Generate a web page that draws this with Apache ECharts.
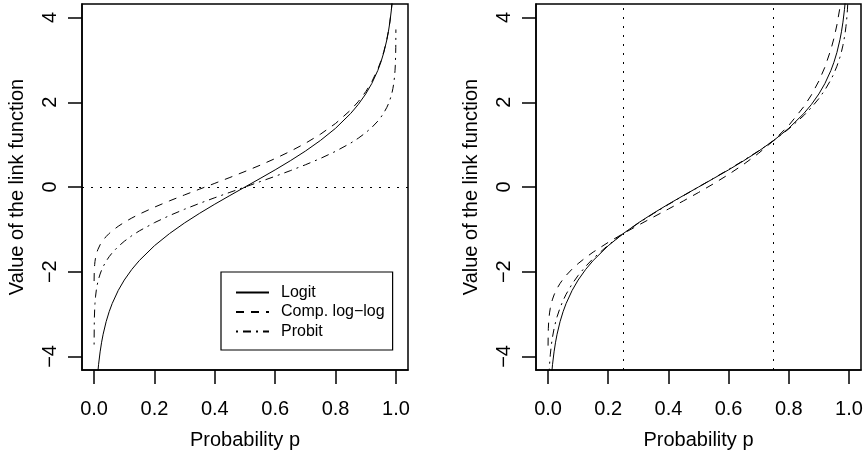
<!DOCTYPE html>
<html>
<head>
<meta charset="utf-8">
<script src="https://cdn.jsdelivr.net/npm/echarts@6/dist/echarts.min.js"></script>
<style>
html,body{margin:0;padding:0;background:#fff;}
#chart{width:866px;height:457px;}
</style>
</head>
<body>
<div id="chart"></div>
<script>
// Probability grid (x values)
var P = [0.0001,0.0005,0.001,0.002,0.003,0.005,0.0075,0.01,0.0125,0.015,0.02,0.025,0.03,0.04,0.05,0.06,0.08,0.1,0.125,0.15,0.2,0.25,0.3,0.35,0.4,0.45,0.5,
         0.55,0.6,0.65,0.7,0.75,0.8,0.85,0.875,0.9,0.92,0.94,0.95,0.96,0.97,0.975,0.98,0.985,0.9875,0.99,0.9925,0.995,0.997,0.998,0.999,0.9995,0.9999];

// Left panel: link function values
var logitY = [-9.210,-7.600,-6.907,-6.213,-5.806,-5.293,-4.885,-4.595,-4.370,-4.185,-3.892,-3.664,-3.476,-3.178,-2.944,-2.752,-2.442,-2.197,-1.946,-1.735,-1.386,-1.099,-0.847,-0.619,-0.405,-0.201,0,
              0.201,0.405,0.619,0.847,1.099,1.386,1.735,1.946,2.197,2.442,2.752,2.944,3.178,3.476,3.664,3.892,4.185,4.370,4.595,4.885,5.293,5.806,6.213,6.907,7.600,9.210];
var loglogY = [-2.220,-2.028,-1.933,-1.827,-1.759,-1.667,-1.588,-1.527,-1.478,-1.435,-1.364,-1.305,-1.255,-1.169,-1.097,-1.034,-0.927,-0.834,-0.732,-0.640,-0.476,-0.327,-0.186,-0.049,0.087,0.225,0.367,
               0.514,0.672,0.842,1.031,1.246,1.500,1.817,2.013,2.250,2.484,2.783,2.970,3.199,3.491,3.676,3.902,4.192,4.376,4.600,4.889,5.296,5.808,6.214,6.907,7.601,9.210];
var probitY = [-3.719,-3.291,-3.090,-2.878,-2.748,-2.576,-2.432,-2.326,-2.241,-2.170,-2.054,-1.960,-1.881,-1.751,-1.645,-1.555,-1.405,-1.282,-1.150,-1.036,-0.842,-0.674,-0.524,-0.385,-0.253,-0.126,0,
               0.126,0.253,0.385,0.524,0.674,0.842,1.036,1.150,1.282,1.405,1.555,1.645,1.751,1.881,1.960,2.054,2.170,2.241,2.326,2.432,2.576,2.748,2.878,3.090,3.291,3.719];

// Right panel: rescaled link functions (matched at p = 0.25 and 0.75)
var rightLogitY = logitY;
var rightLoglogY = [-3.745,-3.476,-3.343,-3.195,-3.101,-2.972,-2.861,-2.776,-2.707,-2.647,-2.548,-2.466,-2.395,-2.276,-2.175,-2.088,-1.937,-1.808,-1.665,-1.537,-1.307,-1.099,-0.902,-0.710,-0.520,-0.328,-0.130,
                    0.077,0.296,0.535,0.798,1.099,1.454,1.897,2.171,2.502,2.829,3.246,3.508,3.827,4.236,4.495,4.810,5.215,5.472,5.785,6.189,6.757,7.473,8.040,9.009,9.978,12.227];
var rightProbitY = [-6.058,-5.360,-5.033,-4.688,-4.476,-4.196,-3.962,-3.789,-3.651,-3.535,-3.345,-3.192,-3.063,-2.852,-2.679,-2.533,-2.289,-2.088,-1.874,-1.688,-1.371,-1.099,-0.854,-0.628,-0.413,-0.205,0,
                    0.205,0.413,0.628,0.854,1.099,1.371,1.688,1.874,2.088,2.289,2.533,2.679,2.852,3.063,3.192,3.345,3.535,3.651,3.789,3.962,4.196,4.476,4.688,5.033,5.360,6.058];

// Ticks and reference lines
var xTicks = [0, 0.2, 0.4, 0.6, 0.8, 1.0];
var yTicks = [-4, -2, 0, 2, 4];
var leftRefH = [0];
var rightRefV = [0.25, 0.75];

var seriesNames = ['Logit', 'Comp. log\u2212log', 'Probit'];
var xTitle = 'Probability p';
var yTitle = 'Value of the link function';

function zip(xs, ys) { return xs.map(function (x, i) { return [x, ys[i]]; }); }

var FONT = '"Liberation Sans", Arial, Helvetica, sans-serif';
var dashSolid = 'solid', dashDash = [8, 7], dashDotDash = [2, 5, 8, 5], dotted = [2, 7];

function xAxisCfg(i) {
  return {
    type: 'value', gridIndex: i, min: -0.04, max: 1.04,
    name: xTitle, nameLocation: 'middle', nameGap: 60,
    nameTextStyle: { fontSize: 20, color: '#000', fontFamily: FONT },
    splitLine: { show: false },
    axisLine: { show: true, onZero: false, lineStyle: { color: '#000', width: 1.5 } },
    axisTick: { show: true, length: 14, customValues: xTicks, lineStyle: { color: '#000', width: 1.5 } },
    axisLabel: { customValues: xTicks, fontSize: 20, color: '#000', fontFamily: FONT, margin: 29,
      formatter: function (v) { return Number(v).toFixed(1); } }
  };
}
function yAxisCfg(i) {
  return {
    type: 'value', gridIndex: i, min: -4.32, max: 4.32,
    name: yTitle, nameLocation: 'middle', nameGap: 55, nameRotate: 90,
    nameTextStyle: { fontSize: 20, color: '#000', fontFamily: FONT },
    splitLine: { show: false },
    axisLine: { show: true, onZero: false, lineStyle: { color: '#000', width: 1.5 } },
    axisTick: { show: true, length: 14, customValues: yTicks, lineStyle: { color: '#000', width: 1.5 } },
    axisLabel: { customValues: yTicks, fontSize: 20, color: '#000', fontFamily: FONT, margin: 22, rotate: 90,
      formatter: function (v) { return v < 0 ? '\u2212' + Math.abs(v) : String(v); } }
  };
}
function lineSeries(name, gi, ys, dash, extra) {
  var s = {
    type: 'line', name: name, xAxisIndex: gi, yAxisIndex: gi,
    data: zip(P, ys), symbol: 'none', showSymbol: false, clip: true, silent: true,
    lineStyle: { color: '#000', width: 1, type: dash },
    itemStyle: { color: '#000' }
  };
  if (extra) for (var k in extra) s[k] = extra[k];
  return s;
}
var refStyle = { color: '#000', width: 1, type: dotted };

var option = {
  animation: false,
  backgroundColor: '#fff',
  textStyle: { fontFamily: FONT },
  grid: [
    { left: 82, top: 4, width: 326, height: 366, show: true, borderColor: '#000', borderWidth: 1.5, backgroundColor: 'transparent' },
    { left: 536, top: 4, width: 325, height: 366, show: true, borderColor: '#000', borderWidth: 1.5, backgroundColor: 'transparent' }
  ],
  xAxis: [xAxisCfg(0), xAxisCfg(1)],
  yAxis: [yAxisCfg(0), yAxisCfg(1)],
  legend: {
    data: seriesNames, orient: 'vertical', left: 221, top: 272,
    padding: [11, 8, 9, 14], itemWidth: 33, itemHeight: 14, itemGap: 0.5,
    borderColor: '#000', borderWidth: 1.2, backgroundColor: '#fff',
    selectedMode: false,
    itemStyle: { color: 'transparent', borderColor: 'transparent', borderWidth: 0, opacity: 0 },
    textStyle: { fontSize: 16, color: '#000', fontFamily: FONT, lineHeight: 19, padding: [0, 0, 0, 7] }
  },
  series: [
    lineSeries(seriesNames[0], 0, logitY, dashSolid, {
      markLine: { silent: true, symbol: ['none', 'none'], label: { show: false }, lineStyle: refStyle,
        data: leftRefH.map(function (v) { return { yAxis: v }; }) }
    }),
    lineSeries(seriesNames[1], 0, loglogY, dashDash),
    lineSeries(seriesNames[2], 0, probitY, dashDotDash),
    lineSeries(seriesNames[0], 1, rightLogitY, dashSolid, {
      markLine: { silent: true, symbol: ['none', 'none'], label: { show: false }, lineStyle: refStyle,
        data: rightRefV.map(function (v) { return { xAxis: v }; }) }
    }),
    lineSeries(seriesNames[1], 1, rightLoglogY, dashDash),
    lineSeries(seriesNames[2], 1, rightProbitY, dashDotDash)
  ]
};

var chart = echarts.init(document.getElementById('chart'), null, { renderer: 'canvas' });
chart.setOption(option);
</script>
</body>
</html>
